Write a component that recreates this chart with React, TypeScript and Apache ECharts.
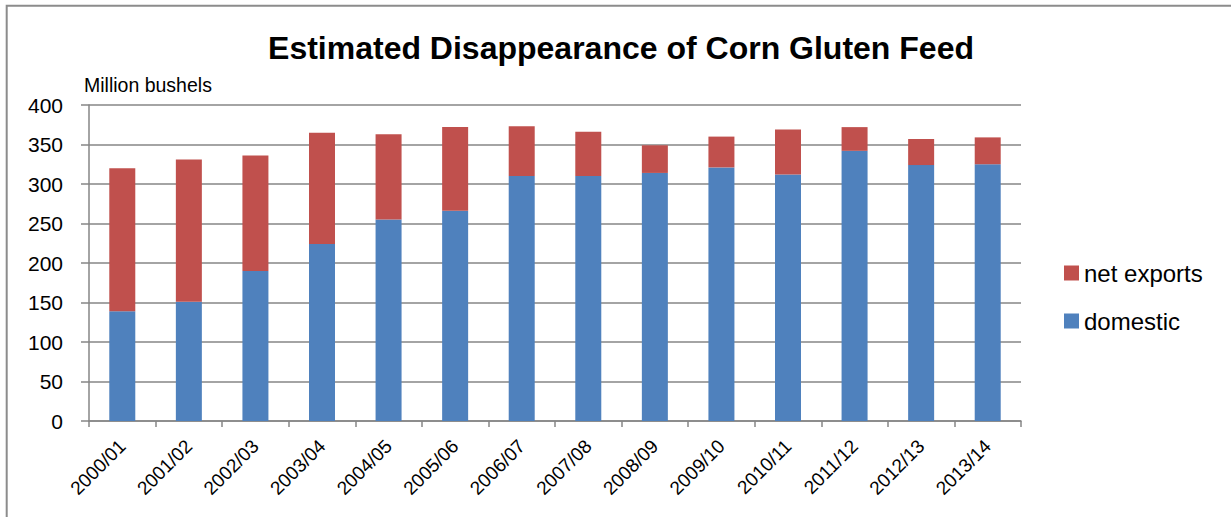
import React, { useEffect, useRef } from "react";
import * as echarts from "echarts";

const categories = [
  "2000/01", "2001/02", "2002/03", "2003/04", "2004/05", "2005/06", "2006/07",
  "2007/08", "2008/09", "2009/10", "2010/11", "2011/12", "2012/13", "2013/14",
];
const domestic = [139, 151, 190, 224, 255, 266, 310, 310, 314, 321, 312, 342, 324, 325];
const netExports = [181, 180, 146, 141, 108, 106, 63, 56, 35, 39, 57, 30, 33, 34];
const yTicks = { min: 0, max: 400, interval: 50 };

const FONT = "'Liberation Sans', Arial, sans-serif";
const GRID_COLOR = "#868686";

export default function App() {
  const ref = useRef<HTMLDivElement>(null);
  useEffect(() => {
    if (!ref.current) return;
    const chart = echarts.init(ref.current, undefined, { renderer: "svg" });
    chart.setOption({
      animation: false,
      backgroundColor: "#ffffff",
      title: {
        text: "Estimated Disappearance of Corn Gluten Feed",
        left: 621,
        top: 32,
        textAlign: "center",
        padding: 0,
        textStyle: { fontFamily: FONT, fontSize: 32, fontWeight: "bold", color: "#000000" },
      },
      legend: {
        orient: "vertical",
        left: 1064,
        top: 261,
        padding: 0,
        itemWidth: 15,
        itemHeight: 15,
        itemGap: 24,
        icon: "rect",
        data: ["net exports", "domestic"],
        textStyle: { fontFamily: FONT, fontSize: 24, color: "#000000" },
      },
      grid: { left: 89, right: 210, top: 105, bottom: 96, containLabel: false },
      xAxis: {
        type: "category",
        data: categories,
        axisLine: { show: true, lineStyle: { color: GRID_COLOR, width: 1.5 } },
        axisTick: { show: true, length: 6, lineStyle: { color: GRID_COLOR, width: 1.5 } },
        axisLabel: {
          rotate: 45,
          interval: 0,
          margin: 22,
          fontFamily: FONT,
          fontSize: 19,
          color: "#000000",
        },
      },
      yAxis: {
        type: "value",
        min: yTicks.min,
        max: yTicks.max,
        interval: yTicks.interval,
        axisLine: { show: true, lineStyle: { color: GRID_COLOR, width: 1.5 } },
        axisTick: { show: true, length: 8, lineStyle: { color: GRID_COLOR, width: 1.5 } },
        splitLine: { show: true, lineStyle: { color: GRID_COLOR, width: 1.5 } },
        axisLabel: { margin: 26, fontFamily: FONT, fontSize: 21, color: "#000000" },
      },
      series: [
        {
          name: "domestic",
          type: "bar",
          stack: "total",
          data: domestic,
          barWidth: 26,
          itemStyle: { color: "#4F81BD" },
        },
        {
          name: "net exports",
          type: "bar",
          stack: "total",
          data: netExports,
          barWidth: 26,
          itemStyle: { color: "#C0504D" },
        },
      ],
      graphic: [
        {
          type: "rect",
          silent: true,
          shape: { x: 6.7, y: 5.7, width: 1260, height: 540 },
          style: { fill: "none", stroke: "#8c8c8c", lineWidth: 2 },
        },
        {
          type: "text",
          left: 84,
          top: 75,
          style: { text: "Million bushels", fontFamily: FONT, fontSize: 19.5, fill: "#000000" },
        },
      ],
    });
    return () => chart.dispose();
  }, []);
  return (
    <div style={{ position: "absolute", left: 0, top: 0 }}>
      <div ref={ref} style={{ width: 1231, height: 517 }} />
    </div>
  );
}
